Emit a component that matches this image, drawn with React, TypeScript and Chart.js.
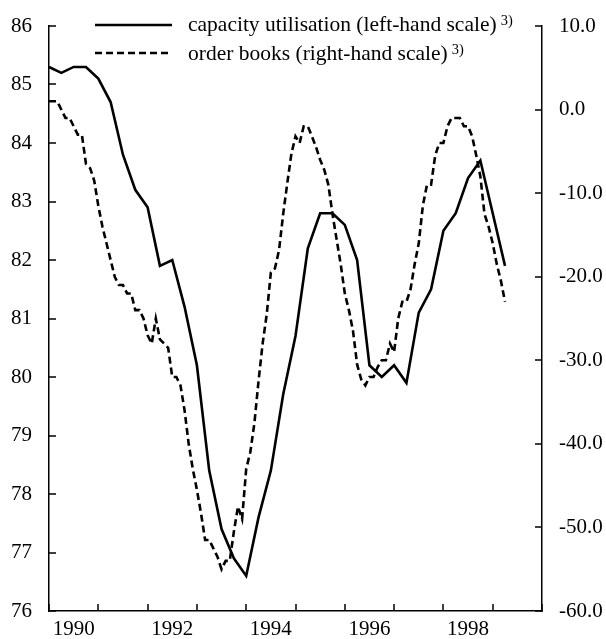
import React, { useEffect, useRef } from "react";
import { Chart, registerables } from "chart.js";

Chart.register(...registerables);

const FONT = '"Liberation Serif", "Times New Roman", serif';

// Capacity utilisation, quarterly, from 1990 Q1 (left-hand scale)
const capacityStartYear = 1990;
const capacityValues = [
  85.3, 85.2, 85.3, 85.3,
  85.1, 84.7, 83.8, 83.2,
  82.9, 81.9, 82.0, 81.2,
  80.2, 78.4, 77.4, 76.9,
  76.6, 77.6, 78.4, 79.7,
  80.7, 82.2, 82.8, 82.8,
  82.6, 82.0, 80.2, 80.0,
  80.2, 79.9, 81.1, 81.5,
  82.5, 82.8, 83.4, 83.7,
  82.8, 81.9,
];

// Order books, monthly, from January 1990 (right-hand scale)
const orderStartYear = 1990;
const orderValues = [
  1.0, 1.0, 1.0, 0.0, -1.0, -1.0, -2.0, -3.0, -3.0, -6.5, -7.0, -8.5,
  -11.5, -14.0, -16.0, -18.0, -20.0, -21.0, -21.0, -22.0, -22.0, -24.0, -24.0, -25.0,
  -27.0, -28.0, -25.0, -27.5, -28.0, -28.5, -32.0, -32.0, -33.0, -36.0, -40.0, -43.0,
  -45.5, -48.3, -51.5, -51.5, -52.5, -53.5, -55.0, -54.0, -54.0, -50.5, -47.5, -49.0,
  -43.0, -41.0, -37.5, -32.5, -28.0, -24.5, -19.5, -19.0, -16.8, -12.5, -8.8, -5.3,
  -3.2, -4.0, -2.0, -2.0, -3.2, -4.5, -6.0, -7.2, -9.0, -12.5, -15.5, -18.5,
  -22.0, -24.0, -26.5, -30.5, -32.3, -33.0, -32.0, -32.0, -30.8, -30.0, -30.0, -28.0,
  -29.0, -25.0, -23.0, -23.0, -21.5, -18.5, -16.0, -11.5, -9.0, -9.0, -5.5, -4.0,
  -4.0, -2.0, -1.0, -1.0, -1.0, -2.0, -2.0, -3.2, -5.5, -8.0, -12.5, -14.0,
  -16.0, -18.5, -20.5, -23.0,
];

const legendLabels = [
  "capacity utilisation (left-hand scale)",
  "order books (right-hand scale)",
];
const legendNote = "3)";

const xLabelYears = [1990, 1992, 1994, 1996, 1998];
const xTickYears = [1990, 1991, 1992, 1993, 1994, 1995, 1996, 1997, 1998, 1999, 2000];
const leftTickValues = [76, 77, 78, 79, 80, 81, 82, 83, 84, 85, 86];
const rightTickValues = [-60, -50, -40, -30, -20, -10, 0, 10];
const xMin = 1990;
const xMax = 2000;
const leftMin = 76;
const leftMax = 86;
const rightMin = -60;
const rightMax = 10;

const DASH = [7, 4];
const TICK_LEN = 7;
const TICK_W = 1.5;

const overlayPlugin = {
  id: "overlay",
  afterDraw(chart: any) {
    const ctx: CanvasRenderingContext2D = chart.ctx;
    const sx = chart.scales.x;
    const sy = chart.scales.y;
    const sy1 = chart.scales.y1;
    const left = Number(sy.right);
    const right = Number(sy1.left);
    const bottom = Number(sx.top);

    // inward tick marks
    ctx.save();
    ctx.setLineDash([]);
    ctx.fillStyle = "#000";
    xTickYears.forEach((v) => {
      const px = Math.round(sx.getPixelForValue(v));
      ctx.fillRect(px - TICK_W / 2, bottom - TICK_LEN, TICK_W, TICK_LEN);
    });
    leftTickValues.forEach((v) => {
      const py = Math.round(sy.getPixelForValue(v));
      ctx.fillRect(left, py - TICK_W / 2, TICK_LEN, TICK_W);
    });
    rightTickValues.forEach((v) => {
      const py = Math.round(sy1.getPixelForValue(v));
      ctx.fillRect(right - TICK_LEN, py - TICK_W / 2, TICK_LEN, TICK_W);
    });
    ctx.restore();

    // legend
    const items = [
      { label: legendLabels[0], dash: [] as number[], lineY: 25, textY: 31 },
      { label: legendLabels[1], dash: DASH, lineY: 53, textY: 59.5 },
    ];
    ctx.save();
    for (const it of items) {
      ctx.strokeStyle = "#000";
      ctx.lineWidth = 2.6;
      ctx.setLineDash(it.dash);
      ctx.beginPath();
      ctx.moveTo(95, it.lineY);
      ctx.lineTo(172, it.lineY);
      ctx.stroke();
      ctx.setLineDash([]);
      ctx.fillStyle = "#000";
      ctx.textBaseline = "alphabetic";
      ctx.textAlign = "left";
      ctx.font = `21.5px ${FONT}`;
      ctx.fillText(it.label, 188, it.textY);
      const w = ctx.measureText(it.label).width;
      ctx.font = `14.5px ${FONT}`;
      ctx.fillText(legendNote, 188 + w + 4, it.textY - 6);
    }
    ctx.restore();
  },
};

const fixPadding = (scale: any) => {
  scale.paddingTop = 0;
  scale.paddingBottom = 0;
  scale.paddingLeft = 0;
  scale.paddingRight = 0;
};

export default function App() {
  const canvasRef = useRef<HTMLCanvasElement | null>(null);

  useEffect(() => {
    const canvas = canvasRef.current;
    if (!canvas) return;

    const capacityData = capacityValues.map((v, i) => ({ x: capacityStartYear + i / 4, y: v }));
    const orderData = orderValues.map((v, i) => ({ x: orderStartYear + i / 12, y: v }));

    const chart = new Chart(canvas, {
      type: "line",
      data: {
        datasets: [
          {
            label: legendLabels[0],
            data: capacityData,
            yAxisID: "y",
            borderColor: "#000",
            borderWidth: 2.6,
            pointRadius: 0,
            tension: 0,
            fill: false,
          },
          {
            label: legendLabels[1],
            data: orderData,
            yAxisID: "y1",
            borderColor: "#000",
            borderWidth: 2.6,
            borderDash: DASH,
            pointRadius: 0,
            tension: 0,
            fill: false,
          },
        ],
      },
      options: {
        responsive: false,
        animation: false,
        events: [],
        layout: { padding: { top: 26, left: 0, right: 0, bottom: 0 } },
        plugins: {
          legend: { display: false },
          tooltip: { enabled: false },
          title: { display: false },
        },
        scales: {
          x: {
            type: "linear",
            position: "bottom",
            min: xMin,
            max: xMax,
            grid: { display: false, drawTicks: false },
            border: { display: true, color: "#000", width: 1.5 },
            afterBuildTicks: (scale: any) => {
              scale.ticks = xLabelYears.map((y) => ({ value: y + 0.5 }));
            },
            afterFit: (scale: any) => {
              scale.height = 28;
              fixPadding(scale);
            },
            ticks: {
              autoSkip: false,
              maxRotation: 0,
              padding: 6,
              color: "#000",
              font: { family: FONT, size: 21 },
              callback: (v: any) => String(Math.floor(Number(v))),
            },
          },
          y: {
            type: "linear",
            position: "left",
            min: leftMin,
            max: leftMax,
            grid: { display: false, drawTicks: false },
            border: { display: true, color: "#000", width: 1.5 },
            afterFit: (scale: any) => {
              scale.width = 49;
              fixPadding(scale);
            },
            ticks: {
              stepSize: 1,
              padding: 17,
              color: "#000",
              font: { family: FONT, size: 21 },
              callback: (v: any) => String(v),
            },
          },
          y1: {
            type: "linear",
            position: "right",
            min: rightMin,
            max: rightMax,
            grid: { display: false, drawTicks: false },
            border: { display: true, color: "#000", width: 1.5 },
            afterFit: (scale: any) => {
              scale.width = 64;
              fixPadding(scale);
            },
            ticks: {
              stepSize: 10,
              padding: 17,
              color: "#000",
              font: { family: FONT, size: 21 },
              callback: (v: any) => Number(v).toFixed(1),
            },
          },
        },
      },
      plugins: [overlayPlugin],
    });

    return () => chart.destroy();
  }, []);

  return (
    <div style={{ position: "fixed", left: 0, top: 0, width: 606, height: 639, background: "#fff" }}>
      <canvas ref={canvasRef} width={606} height={639} style={{ display: "block" }} />
    </div>
  );
}
